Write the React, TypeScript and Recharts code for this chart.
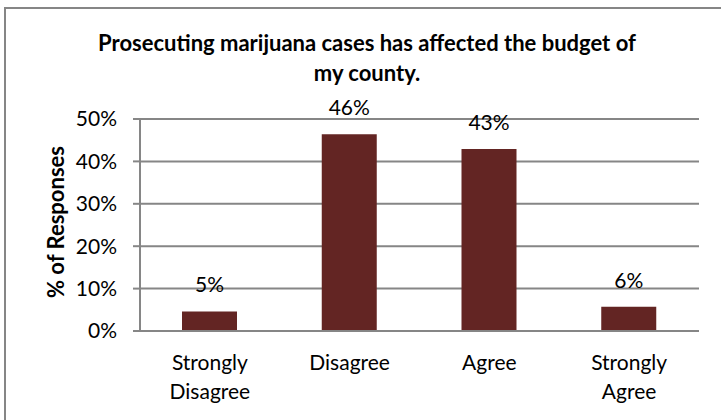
import React from 'react';
import { BarChart, Bar, XAxis, YAxis, CartesianGrid, LabelList } from 'recharts';

const categories = ['Strongly Disagree', 'Disagree', 'Agree', 'Strongly Agree'];
const responses = [4.6, 46.4, 42.9, 5.7];
const yTicks = [0, 10, 20, 30, 40, 50];
const titleLines = ['Prosecuting marijuana cases has affected the budget of', 'my county.'];
const yLabel = '% of Responses';

const data = categories.map((c, i) => ({ category: c, value: responses[i] }));

const FONT = 'Lato, "Open Sans", sans-serif';
const GRID = '#868686';
const BAR = '#632523';

const CategoryTick = (props: any) => {
  const { x, y, payload } = props;
  const lines = String(payload.value).split(' ');
  return (
    <g>
      {lines.map((line: string, i: number) => (
        <text
          key={i}
          x={x}
          y={y + 22.5 + i * 29}
          textAnchor="middle"
          dominantBaseline="central"
          fontFamily={FONT}
          fontSize={21}
          fill="#000"
        >
          {line}
        </text>
      ))}
    </g>
  );
};

export default function App() {
  return (
    <div style={{ position: 'absolute', left: 0, top: 0, width: 721, height: 420, overflow: 'hidden', background: '#fff' }}>
      <div
        style={{
          position: 'absolute',
          left: 4,
          top: 7,
          width: 900,
          height: 600,
          borderTop: `2px solid ${GRID}`,
          borderLeft: `2px solid ${GRID}`,
        }}
      />
      <div
        style={{
          position: 'absolute',
          left: 17,
          top: 28,
          width: 700,
          textAlign: 'center',
          fontFamily: FONT,
          fontWeight: 700,
          fontSize: 22,
          lineHeight: '30px',
          color: '#000',
        }}
      >
        {titleLines.map((l, i) => (
          <div key={i}>{l}</div>
        ))}
      </div>
      <div
        style={{
          position: 'absolute',
          left: 55,
          top: 222,
          transform: 'translate(-50%, -50%) rotate(-90deg)',
          whiteSpace: 'nowrap',
          fontFamily: FONT,
          fontWeight: 700,
          fontSize: 22,
          color: '#000',
        }}
      >
        {yLabel}
      </div>
      <div style={{ position: 'absolute', left: 0, top: 0 }}>
        <BarChart width={721} height={420} data={data} margin={{ top: 119, right: 22, bottom: 29, left: 80 }}>
          <CartesianGrid vertical={false} stroke={GRID} strokeWidth={2} />
          <XAxis
            dataKey="category"
            height={60}
            tickLine={false}
            axisLine={{ stroke: GRID, strokeWidth: 2 }}
            tick={<CategoryTick />}
            interval={0}
          />
          <YAxis
            width={60}
            domain={[0, 50]}
            ticks={yTicks}
            tickFormatter={(v: number) => `${v}%`}
            tickSize={7}
            tickMargin={16}
            tickLine={{ stroke: GRID, strokeWidth: 2 }}
            axisLine={{ stroke: GRID, strokeWidth: 2 }}
            tick={{ fontFamily: FONT, fontSize: 21, fill: '#000' }}
          />
          <Bar dataKey="value" fill={BAR} barSize={55} isAnimationActive={false}>
            <LabelList
              dataKey="value"
              position="top"
              offset={19}
              formatter={(v: any) => `${Math.round(Number(v))}%`}
              style={{ fontFamily: FONT, fontSize: 21, fill: '#000' }}
            />
          </Bar>
        </BarChart>
      </div>
    </div>
  );
}
